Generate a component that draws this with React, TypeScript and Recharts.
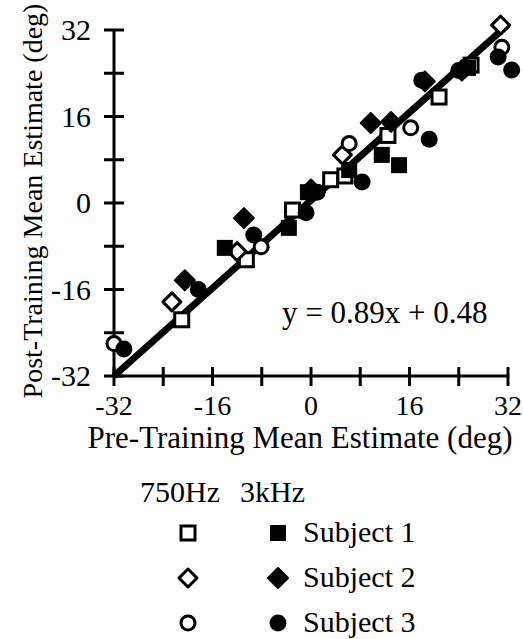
import { Scatter, ScatterChart, XAxis, YAxis } from "recharts";

const FONT = '"Liberation Serif", "Times New Roman", serif';

// pre-training (x) / post-training (y) mean estimates, deg
// Subject 1 — squares
const s1LowPre = [-21, -10.5, -3, 3.2, 5.5, 12.5, 20.8, 26];
const s1LowPost = [-21.6, -10.5, -1.3, 4.3, 5, 12.5, 19.6, 25.5];
const s1HighPre = [-14, -3.6, -0.5, 6.2, 11.5, 14.3, 25.5];
const s1HighPost = [-8.3, -4.6, 2, 6.1, 8.9, 7, 25];
// Subject 2 — diamonds
const s2LowPre = [-22.6, -12, 5.1, 25, 30.8];
const s2LowPost = [-18.3, -9, 8.9, 25, 32.9];
const s2HighPre = [-20.5, -10.9, 0, 9.7, 13, 18.5, 24.5];
const s2HighPost = [-14.3, -2.8, 2.5, 14.8, 15, 22.5, 24.5];
// Subject 3 — circles
const s3LowPre = [-32, -8.1, 6.2, 16.2, 31];
const s3LowPost = [-26, -8.1, 11, 13.9, 28.8];
const s3HighPre = [-30.4, -18.3, -9.3, -0.8, 1, 8.3, 18, 19.2, 24, 30.4, 32.6];
const s3HighPost = [-27, -16, -5.9, -1.8, 2, 3.9, 22.7, 11.8, 24.5, 27, 24.6];

// fitted line as drawn
const fitPre = [-32, 32];
const fitPost = [-32, 33];

const ticks = [-32, -24, -16, -8, 0, 8, 16, 24, 32];
const subjects = ["Subject 1", "Subject 2", "Subject 3"];

const pts = (xs: number[], ys: number[]) => xs.map((x, i) => ({ x, y: ys[i] }));

const openSquare = (cx: number, cy: number, s = 14) => (
  <rect x={cx - s / 2} y={cy - s / 2} width={s} height={s} fill="#fff" stroke="#000" strokeWidth={3} />
);
const fillSquare = (cx: number, cy: number, s = 16) => (
  <rect x={cx - s / 2} y={cy - s / 2} width={s} height={s} fill="#000" />
);
const openDiamond = (cx: number, cy: number, r = 9) => (
  <polygon
    points={`${cx},${cy - r} ${cx + r},${cy} ${cx},${cy + r} ${cx - r},${cy}`}
    fill="#fff"
    stroke="#000"
    strokeWidth={3}
    strokeLinejoin="round"
  />
);
const fillDiamond = (cx: number, cy: number, r = 10) => (
  <polygon
    points={`${cx},${cy - r} ${cx + r},${cy} ${cx},${cy + r} ${cx - r},${cy}`}
    fill="#000"
    stroke="#000"
    strokeWidth={2}
    strokeLinejoin="round"
  />
);
const openCircle = (cx: number, cy: number, r = 7) => (
  <circle cx={cx} cy={cy} r={r} fill="#fff" stroke="#000" strokeWidth={3} />
);
const fillCircle = (cx: number, cy: number, r = 8.5) => <circle cx={cx} cy={cy} r={r} fill="#000" />;

const shapeOf = (fn: (cx: number, cy: number) => any) => (p: any) => fn(p.cx, p.cy);

const YTick = ({ x, y, payload }: any) => (
  <g>
    <line x1={x - 10} x2={x + 10} y1={y} y2={y} stroke="#000" strokeWidth={3} />
    {payload.value % 16 === 0 && (
      <text x={x - 23} y={y + 10} textAnchor="end" fontSize={30} fontFamily={FONT} fill="#000">
        {payload.value}
      </text>
    )}
  </g>
);

const XTick = ({ x, y, payload }: any) => (
  <g>
    <line x1={x} x2={x} y1={y - 9} y2={y + 10} stroke="#000" strokeWidth={3} />
    {payload.value % 16 === 0 && (
      <text x={x} y={y + 39} textAnchor="middle" fontSize={28} fontFamily={FONT} fill="#000">
        {payload.value}
      </text>
    )}
  </g>
);

export default function App() {
  const legendRows = [
    [openSquare, fillSquare],
    [openDiamond, fillDiamond],
    [openCircle, fillCircle],
  ];
  return (
    <div style={{ position: "absolute", left: 0, top: 0, width: 523, height: 639, background: "#fff" }}>
      <style>{`.recharts-scatter { clip-path: none !important; }`}</style>
      <ScatterChart width={523} height={639} margin={{ top: 30, right: 15, bottom: 233, left: 54 }}>
        <XAxis
          type="number"
          dataKey="x"
          domain={[-32, 32]}
          ticks={ticks}
          interval={0}
          allowDataOverflow
          height={30}
          tickSize={0}
          tickMargin={0}
          tickLine={false}
          axisLine={{ stroke: "#000", strokeWidth: 3 }}
          tick={<XTick />}
        />
        <YAxis
          type="number"
          dataKey="y"
          domain={[-32, 32]}
          ticks={ticks}
          interval={0}
          allowDataOverflow
          width={60}
          tickSize={0}
          tickMargin={0}
          tickLine={false}
          axisLine={{ stroke: "#000", strokeWidth: 3 }}
          tick={<YTick />}
        />
        <Scatter
          data={pts(fitPre, fitPost)}
          line={{ stroke: "#000", strokeWidth: 7 }}
          shape={() => <g />}
          isAnimationActive={false}
        />
        <Scatter data={pts(s1LowPre, s1LowPost)} shape={shapeOf(openSquare)} isAnimationActive={false} />
        <Scatter data={pts(s2LowPre, s2LowPost)} shape={shapeOf(openDiamond)} isAnimationActive={false} />
        <Scatter data={pts(s3LowPre, s3LowPost)} shape={shapeOf(openCircle)} isAnimationActive={false} />
        <Scatter data={pts(s1HighPre, s1HighPost)} shape={shapeOf(fillSquare)} isAnimationActive={false} />
        <Scatter data={pts(s2HighPre, s2HighPost)} shape={shapeOf(fillDiamond)} isAnimationActive={false} />
        <Scatter data={pts(s3HighPre, s3HighPost)} shape={shapeOf(fillCircle)} isAnimationActive={false} />
      </ScatterChart>
      <svg
        width={523}
        height={639}
        style={{ position: "absolute", left: 0, top: 0, pointerEvents: "none" }}
        fontFamily={FONT}
        fill="#000"
      >
        <text x={42} y={201} transform="rotate(-90 42 201)" textAnchor="middle" fontSize={28}>
          Post-Training Mean Estimate (deg)
        </text>
        <text x={300} y={448} textAnchor="middle" fontSize={31}>
          Pre-Training Mean Estimate (deg)
        </text>
        <text x={282} y={323} fontSize={31}>
          y = 0.89x + 0.48
        </text>
        <text x={140} y={502} fontSize={30}>
          750Hz
        </text>
        <text x={240} y={502} fontSize={30}>
          3kHz
        </text>
        {legendRows.map(([openFn, fillFn], i) => (
          <g key={i}>
            {openFn(188, 533 + i * 45)}
            {fillFn(278, 533 + i * 45)}
            <text x={303} y={542 + i * 45} fontSize={30}>
              {subjects[i]}
            </text>
          </g>
        ))}
      </svg>
    </div>
  );
}
